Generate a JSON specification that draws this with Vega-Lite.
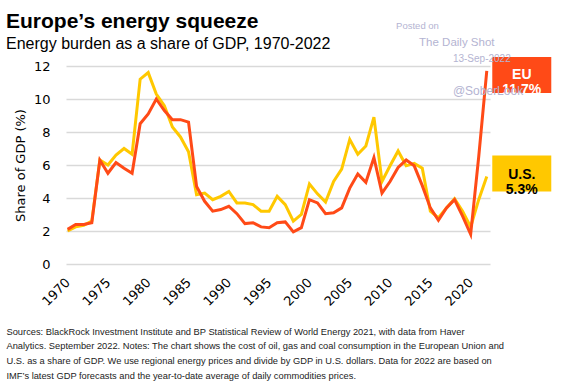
{
  "$schema": "https://vega.github.io/schema/vega-lite/v6.json",
  "autosize": "none",
  "width": 424,
  "height": 198,
  "padding": {"left": 66, "top": 66, "right": 74, "bottom": 128},
  "background": "white",
  "config": {
    "view": {"stroke": null},
    "font": "DejaVu Sans",
    "axisX": {
      "labelAngle": -45, "labelAlign": "right", "labelBaseline": "middle",
      "labelFontSize": 13, "labelColor": "#000000", "labelPadding": 16,
      "ticks": false, "domain": false, "grid": false,
      "titleFont": "Liberation Sans", "titleFontSize": 9.3, "titleFontWeight": "normal",
      "titleColor": "#222222", "titleAnchor": "start", "titleAlign": "left", "titleBaseline": "top",
      "titleX": -60, "titleY": 63, "titleLineHeight": 14.8
    },
    "axisY": {
      "titleFontSize": 13, "titleFontWeight": "normal", "titleColor": "#000000", "titlePadding": 6,
      "labelFontSize": 13, "labelColor": "#000000", "labelPadding": 16,
      "ticks": false, "domain": false, "grid": true,
      "gridColor": "#d9d9d9", "gridWidth": 1.5
    }
  },
  "title": {
    "text": "Europe\u2019s energy squeeze",
    "subtitle": "Energy burden as a share of GDP, 1970-2022",
    "anchor": "start",
    "frame": "group",
    "dx": -60,
    "dy": 37,
    "font": "Liberation Sans",
    "fontSize": 21,
    "fontWeight": "bold",
    "color": "#000000",
    "subtitleFont": "Liberation Sans",
    "subtitleFontSize": 16,
    "subtitleColor": "#000000",
    "subtitlePadding": 4,
    "offset": 6
  },
  "datasets": {
    "energy": [
      {"year": 1970, "region": "EU", "value": 2.1}, {"year": 1971, "region": "EU", "value": 2.4}, {"year": 1972, "region": "EU", "value": 2.4}, {"year": 1973, "region": "EU", "value": 2.5}, {"year": 1974, "region": "EU", "value": 6.3}, {"year": 1975, "region": "EU", "value": 5.5}, {"year": 1976, "region": "EU", "value": 6.15}, {"year": 1977, "region": "EU", "value": 5.8}, {"year": 1978, "region": "EU", "value": 5.5}, {"year": 1979, "region": "EU", "value": 8.5},
      {"year": 1980, "region": "EU", "value": 9.1}, {"year": 1981, "region": "EU", "value": 10.0}, {"year": 1982, "region": "EU", "value": 9.3}, {"year": 1983, "region": "EU", "value": 8.75}, {"year": 1984, "region": "EU", "value": 8.75}, {"year": 1985, "region": "EU", "value": 8.6}, {"year": 1986, "region": "EU", "value": 4.7}, {"year": 1987, "region": "EU", "value": 3.8}, {"year": 1988, "region": "EU", "value": 3.2}, {"year": 1989, "region": "EU", "value": 3.3},
      {"year": 1990, "region": "EU", "value": 3.5}, {"year": 1991, "region": "EU", "value": 3.05}, {"year": 1992, "region": "EU", "value": 2.45}, {"year": 1993, "region": "EU", "value": 2.5}, {"year": 1994, "region": "EU", "value": 2.25}, {"year": 1995, "region": "EU", "value": 2.2}, {"year": 1996, "region": "EU", "value": 2.5}, {"year": 1997, "region": "EU", "value": 2.55}, {"year": 1998, "region": "EU", "value": 1.95}, {"year": 1999, "region": "EU", "value": 2.2},
      {"year": 2000, "region": "EU", "value": 3.9}, {"year": 2001, "region": "EU", "value": 3.7}, {"year": 2002, "region": "EU", "value": 3.05}, {"year": 2003, "region": "EU", "value": 3.1}, {"year": 2004, "region": "EU", "value": 3.4}, {"year": 2005, "region": "EU", "value": 4.6}, {"year": 2006, "region": "EU", "value": 5.45}, {"year": 2007, "region": "EU", "value": 4.95}, {"year": 2008, "region": "EU", "value": 6.45}, {"year": 2009, "region": "EU", "value": 4.3},
      {"year": 2010, "region": "EU", "value": 5.0}, {"year": 2011, "region": "EU", "value": 5.85}, {"year": 2012, "region": "EU", "value": 6.3}, {"year": 2013, "region": "EU", "value": 5.95}, {"year": 2014, "region": "EU", "value": 4.75}, {"year": 2015, "region": "EU", "value": 3.4}, {"year": 2016, "region": "EU", "value": 2.65}, {"year": 2017, "region": "EU", "value": 3.4}, {"year": 2018, "region": "EU", "value": 3.9}, {"year": 2019, "region": "EU", "value": 2.9},
      {"year": 2020, "region": "EU", "value": 1.8}, {"year": 2021, "region": "EU", "value": 6.5}, {"year": 2022, "region": "EU", "value": 11.7},
      {"year": 1970, "region": "U.S.", "value": 2.0}, {"year": 1971, "region": "U.S.", "value": 2.25}, {"year": 1972, "region": "U.S.", "value": 2.35}, {"year": 1973, "region": "U.S.", "value": 2.6}, {"year": 1974, "region": "U.S.", "value": 6.3}, {"year": 1975, "region": "U.S.", "value": 6.0}, {"year": 1976, "region": "U.S.", "value": 6.6}, {"year": 1977, "region": "U.S.", "value": 7.0}, {"year": 1978, "region": "U.S.", "value": 6.65}, {"year": 1979, "region": "U.S.", "value": 11.2},
      {"year": 1980, "region": "U.S.", "value": 11.6}, {"year": 1981, "region": "U.S.", "value": 10.3}, {"year": 1982, "region": "U.S.", "value": 9.6}, {"year": 1983, "region": "U.S.", "value": 8.3}, {"year": 1984, "region": "U.S.", "value": 7.7}, {"year": 1985, "region": "U.S.", "value": 6.8}, {"year": 1986, "region": "U.S.", "value": 4.2}, {"year": 1987, "region": "U.S.", "value": 4.3}, {"year": 1988, "region": "U.S.", "value": 3.9}, {"year": 1989, "region": "U.S.", "value": 4.1},
      {"year": 1990, "region": "U.S.", "value": 4.4}, {"year": 1991, "region": "U.S.", "value": 3.7}, {"year": 1992, "region": "U.S.", "value": 3.7}, {"year": 1993, "region": "U.S.", "value": 3.6}, {"year": 1994, "region": "U.S.", "value": 3.2}, {"year": 1995, "region": "U.S.", "value": 3.2}, {"year": 1996, "region": "U.S.", "value": 4.1}, {"year": 1997, "region": "U.S.", "value": 3.6}, {"year": 1998, "region": "U.S.", "value": 2.6}, {"year": 1999, "region": "U.S.", "value": 3.0},
      {"year": 2000, "region": "U.S.", "value": 4.85}, {"year": 2001, "region": "U.S.", "value": 4.25}, {"year": 2002, "region": "U.S.", "value": 3.75}, {"year": 2003, "region": "U.S.", "value": 5.0}, {"year": 2004, "region": "U.S.", "value": 5.75}, {"year": 2005, "region": "U.S.", "value": 7.55}, {"year": 2006, "region": "U.S.", "value": 6.65}, {"year": 2007, "region": "U.S.", "value": 7.15}, {"year": 2008, "region": "U.S.", "value": 8.9}, {"year": 2009, "region": "U.S.", "value": 5.0},
      {"year": 2010, "region": "U.S.", "value": 5.95}, {"year": 2011, "region": "U.S.", "value": 6.85}, {"year": 2012, "region": "U.S.", "value": 5.95}, {"year": 2013, "region": "U.S.", "value": 6.1}, {"year": 2014, "region": "U.S.", "value": 5.8}, {"year": 2015, "region": "U.S.", "value": 3.2}, {"year": 2016, "region": "U.S.", "value": 2.8}, {"year": 2017, "region": "U.S.", "value": 3.4}, {"year": 2018, "region": "U.S.", "value": 3.95}, {"year": 2019, "region": "U.S.", "value": 3.2},
      {"year": 2020, "region": "U.S.", "value": 2.25}, {"year": 2021, "region": "U.S.", "value": 3.9}, {"year": 2022, "region": "U.S.", "value": 5.3}
    ],
    "labels": [
      {"year": 2022, "region": "EU", "value": 11.7, "label": "EU\n11.7%"},
      {"year": 2022, "region": "U.S.", "value": 5.3, "label": "U.S.\n5.3%"}
    ],
    "blank": [{}]
  },
  "layer": [
    {
      "encoding": {
        "x": {
          "field": "year", "type": "quantitative",
          "scale": {"domain": [1969.8, 2022.4], "nice": false, "zero": false},
          "axis": {
            "values": [1970, 1975, 1980, 1985, 1990, 1995, 2000, 2005, 2010, 2015, 2020],
            "format": "d",
            "title": [
              "Sources: BlackRock Investment Institute and BP Statistical Review of World Energy 2021, with data from Haver",
              "Analytics. September 2022. Notes: The chart shows the cost of oil, gas and coal consumption in the European Union and",
              "U.S. as a share of GDP. We use regional energy prices and divide by GDP in U.S. dollars. Data for 2022 are based on",
              "IMF\u2019s latest GDP forecasts and the year-to-date average of daily commodities prices."
            ]
          }
        },
        "y": {
          "field": "value", "type": "quantitative",
          "scale": {"domain": [0, 12], "nice": false, "zero": true},
          "axis": {"values": [0, 2, 4, 6, 8, 10, 12], "title": "Share of GDP (%)"}
        }
      },
      "layer": [
        {
          "data": {"name": "energy"},
          "transform": [{"filter": "datum.region === 'U.S.'"}],
          "mark": {"type": "line", "color": "#ffc800", "strokeWidth": 3, "strokeJoin": "miter"}
        },
        {
          "data": {"name": "energy"},
          "transform": [{"filter": "datum.region === 'EU'"}],
          "mark": {"type": "line", "color": "#ff4a17", "strokeWidth": 3, "strokeJoin": "miter"}
        },
        {
          "data": {"name": "labels"},
          "transform": [{"filter": "datum.region === 'EU'"}],
          "layer": [
            {"mark": {"type": "rect", "width": 59, "height": 36, "xOffset": 35, "yOffset": 4, "color": "#ff4a17", "clip": false}},
            {"mark": {"type": "text", "xOffset": 35, "yOffset": 4, "lineBreak": "\n", "lineHeight": 15.5, "align": "center", "baseline": "middle", "font": "Liberation Sans", "fontSize": 14, "fontWeight": "bold", "color": "white"},
             "encoding": {"text": {"field": "label"}}}
          ]
        },
        {
          "data": {"name": "labels"},
          "transform": [{"filter": "datum.region === 'U.S.'"}],
          "layer": [
            {"mark": {"type": "rect", "width": 59, "height": 36, "xOffset": 35, "yOffset": -3, "color": "#ffc800", "clip": false}},
            {"mark": {"type": "text", "xOffset": 35, "yOffset": -2, "lineBreak": "\n", "lineHeight": 15.5, "align": "center", "baseline": "middle", "font": "Liberation Sans", "fontSize": 14, "fontWeight": "bold", "color": "black"},
             "encoding": {"text": {"field": "label"}}}
          ]
        }
      ]
    },
    {
      "data": {"name": "blank"},
      "encoding": {
        "x": {"datum": 2010.75, "type": "quantitative", "scale": {"domain": [1969.8, 2022.4], "nice": false, "zero": false}, "axis": {"values": [1970, 1975, 1980, 1985, 1990, 1995, 2000, 2005, 2010, 2015, 2020], "format": "d"}},
        "y": {"datum": 14.4, "type": "quantitative", "scale": {"domain": [0, 12], "nice": false, "zero": true}, "axis": {"values": [0, 2, 4, 6, 8, 10, 12]}}
      },
      "mark": {"type": "text", "text": "Posted on", "align": "left", "baseline": "middle", "font": "Liberation Sans", "fontSize": 9.5, "fill": "#b4b4d2", "clip": false}
    },
    {
      "data": {"name": "blank"},
      "encoding": {
        "x": {"datum": 2013.6, "type": "quantitative", "scale": {"domain": [1969.8, 2022.4], "nice": false, "zero": false}, "axis": {"values": [1970, 1975, 1980, 1985, 1990, 1995, 2000, 2005, 2010, 2015, 2020], "format": "d"}},
        "y": {"datum": 13.42, "type": "quantitative", "scale": {"domain": [0, 12], "nice": false, "zero": true}, "axis": {"values": [0, 2, 4, 6, 8, 10, 12]}}
      },
      "mark": {"type": "text", "text": "The Daily Shot", "align": "left", "baseline": "middle", "font": "Liberation Sans", "fontSize": 11.5, "fill": "#b4b4d2", "clip": false}
    },
    {
      "data": {"name": "blank"},
      "encoding": {
        "x": {"datum": 2017.8, "type": "quantitative", "scale": {"domain": [1969.8, 2022.4], "nice": false, "zero": false}, "axis": {"values": [1970, 1975, 1980, 1985, 1990, 1995, 2000, 2005, 2010, 2015, 2020], "format": "d"}},
        "y": {"datum": 12.45, "type": "quantitative", "scale": {"domain": [0, 12], "nice": false, "zero": true}, "axis": {"values": [0, 2, 4, 6, 8, 10, 12]}}
      },
      "mark": {"type": "text", "text": "13-Sep-2022", "align": "left", "baseline": "middle", "font": "Liberation Sans", "fontSize": 10, "fill": "#b4b4d2", "clip": false}
    },
    {
      "data": {"name": "blank"},
      "encoding": {
        "x": {"datum": 2017.8, "type": "quantitative", "scale": {"domain": [1969.8, 2022.4], "nice": false, "zero": false}, "axis": {"values": [1970, 1975, 1980, 1985, 1990, 1995, 2000, 2005, 2010, 2015, 2020], "format": "d"}},
        "y": {"datum": 10.48, "type": "quantitative", "scale": {"domain": [0, 12], "nice": false, "zero": true}, "axis": {"values": [0, 2, 4, 6, 8, 10, 12]}}
      },
      "mark": {"type": "text", "text": "@SoberLook", "align": "left", "baseline": "middle", "font": "Liberation Sans", "fontSize": 12, "fill": "#b4b4d2", "clip": false}
    }
  ]
}
